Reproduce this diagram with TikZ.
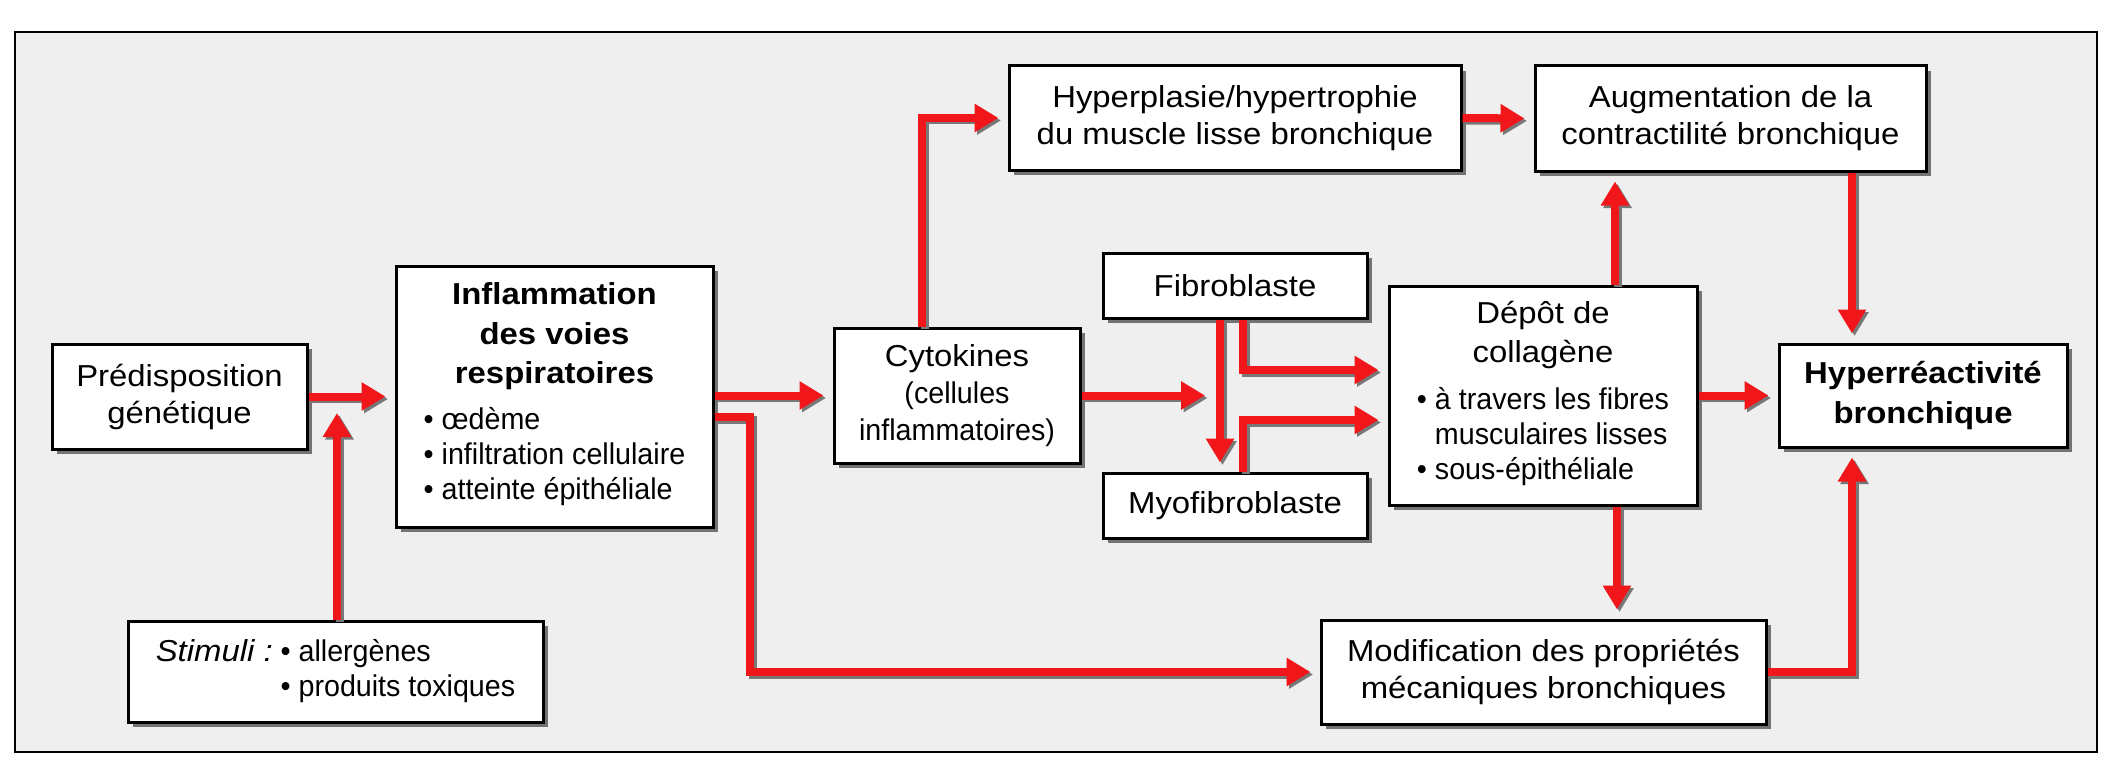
\documentclass[tikz,border=0pt]{standalone}
\usepackage{fontspec}
\setmainfont[FakeStretch=1.085]{Liberation Sans}
\newfontfamily\narrowfont[FakeStretch=0.955]{Liberation Sans}
\usetikzlibrary{arrows.meta,shadows}
\definecolor{arrred}{RGB}{240,22,26}
\definecolor{shadegrey}{RGB}{120,120,120}
\definecolor{bgfill}{RGB}{239,239,239}
\newcommand\bigfs{\fontsize{30.3pt}{37pt}\selectfont}
\newcommand\smallfs{\narrowfont\fontsize{30pt}{35pt}\selectfont}
\tikzset{
  box/.style={draw=black, line width=3pt, fill=white, inner sep=0pt,
    drop shadow={shadow xshift=5pt, shadow yshift=-5pt, fill=black!55, opacity=1},
    font=\bigfs, align=center},
  arr/.style={line width=8pt, draw=arrred, -{Triangle[length=24pt,width=27pt]}, shorten >=#1,
    preaction={draw=shadegrey, line width=8pt, -{Triangle[length=24pt,width=27pt]}, shorten >=#1,
      transform canvas={shift={(2.5pt,-2.5pt)}}}},
  arr/.default=9pt
}
\begin{document}
\begin{tikzpicture}[x=1pt,y=-1pt]
\useasboundingbox (0,0) rectangle (2115,781);
\fill[white] (0,0) rectangle (2115,781);
\draw[line width=2.5pt, fill=bgfill] (15,32) rectangle (2097,752);

% boxes
\node[box, minimum width=255pt, minimum height=105pt] (pred) at (179.5,396.5)
  {Prédisposition\\génétique};
\node[box, minimum width=317pt, minimum height=261pt] (inflam) at (554.5,396.5)
  {\textbf{Inflammation}\\[2.5pt]\textbf{des voies}\\[2.5pt]\textbf{respiratoires}\\[9pt]%
   {\smallfs\begin{tabular}[t]{@{}l@{}}\textbullet\ œdème\\ \textbullet\ infiltration cellulaire\\ \textbullet\ atteinte épithéliale\end{tabular}}};
\node[box, minimum width=415pt, minimum height=101pt] (stim) at (335.5,671.5)
  {\smallfs\begin{tabular}{@{}l@{\ }l@{}}{\normalfont\bigfs\itshape Stimuli :} & \textbullet\ allergènes\\ & \textbullet\ produits toxiques\end{tabular}};
\node[box, minimum width=246pt, minimum height=135pt] (cyto) at (957,395.5)
  {Cytokines\\{\smallfs (cellules}\\{\smallfs inflammatoires)}};
\node[box, minimum width=452pt, minimum height=104pt] (hyperpl) at (1235,118)
  {Hyperplasie/hypertrophie\\du muscle lisse bronchique};
\node[box, minimum width=264pt, minimum height=65pt] (fibro) at (1235,285.5)
  {Fibroblaste};
\node[box, minimum width=264pt, minimum height=65pt] (myo) at (1235,505.5)
  {Myofibroblaste};
\node[box, minimum width=308pt, minimum height=219pt] (depot) at (1543,395.5)
  {Dépôt de\\[2pt]collagène\\[10pt]%
   {\smallfs\begin{tabular}[t]{@{}l@{\ }l@{}}\textbullet & à travers les fibres\\ & musculaires lisses\\ \textbullet & sous-épithéliale\end{tabular}}};
\node[box, minimum width=391pt, minimum height=105pt] (aug) at (1730.5,118.5)
  {Augmentation de la\\contractilité bronchique};
\node[box, minimum width=288pt, minimum height=103pt] (hyper) at (1923,395.5)
  {\textbf{Hyperréactivité}\\[3pt]\textbf{bronchique}};
\node[box, minimum width=445pt, minimum height=104pt] (modif) at (1543.5,672)
  {Modification des propriétés\\mécaniques bronchiques};

% helper coordinates
\coordinate (jn) at (337,413);
\coordinate (k1) at (750,417);
\coordinate (k2) at (922,0);
\coordinate (k3) at (1205,395.5);
\coordinate (k4) at (1220,0);
\coordinate (k5) at (1243,370);
\coordinate (k6) at (1243,420);
\coordinate (k7) at (1615,0);
\coordinate (k8) at (1852,0);
\coordinate (k9) at (1617,0);

% connectors
\draw[arr] (pred.east) -- (inflam.west);
\draw[arr=0pt] (stim.north -| jn) -- (jn);
\draw[arr] (inflam.east |- cyto.west) -- (cyto.west);
\draw[arr] (inflam.east |- k1) -- (k1) |- (modif.west);
\draw[arr] (cyto.north -| k2) |- (hyperpl.west);
\draw[arr=0pt] (cyto.east) -- (k3);
\draw[arr] (fibro.south -| k4) -- (myo.north -| k4);
\draw[arr] (fibro.south -| k5) |- (depot.west |- k5);
\draw[arr] (myo.north -| k6) |- (depot.west |- k6);
\draw[arr] (hyperpl.east) -- (aug.west);
\draw[arr] (depot.north -| k7) -- (aug.south -| k7);
\draw[arr] (aug.south -| k8) -- (hyper.north -| k8);
\draw[arr] (depot.east |- hyper.west) -- (hyper.west);
\draw[arr] (depot.south -| k9) -- (modif.north -| k9);
\draw[arr] (modif.east) -| (hyper.south -| k8);
\end{tikzpicture}
\end{document}
